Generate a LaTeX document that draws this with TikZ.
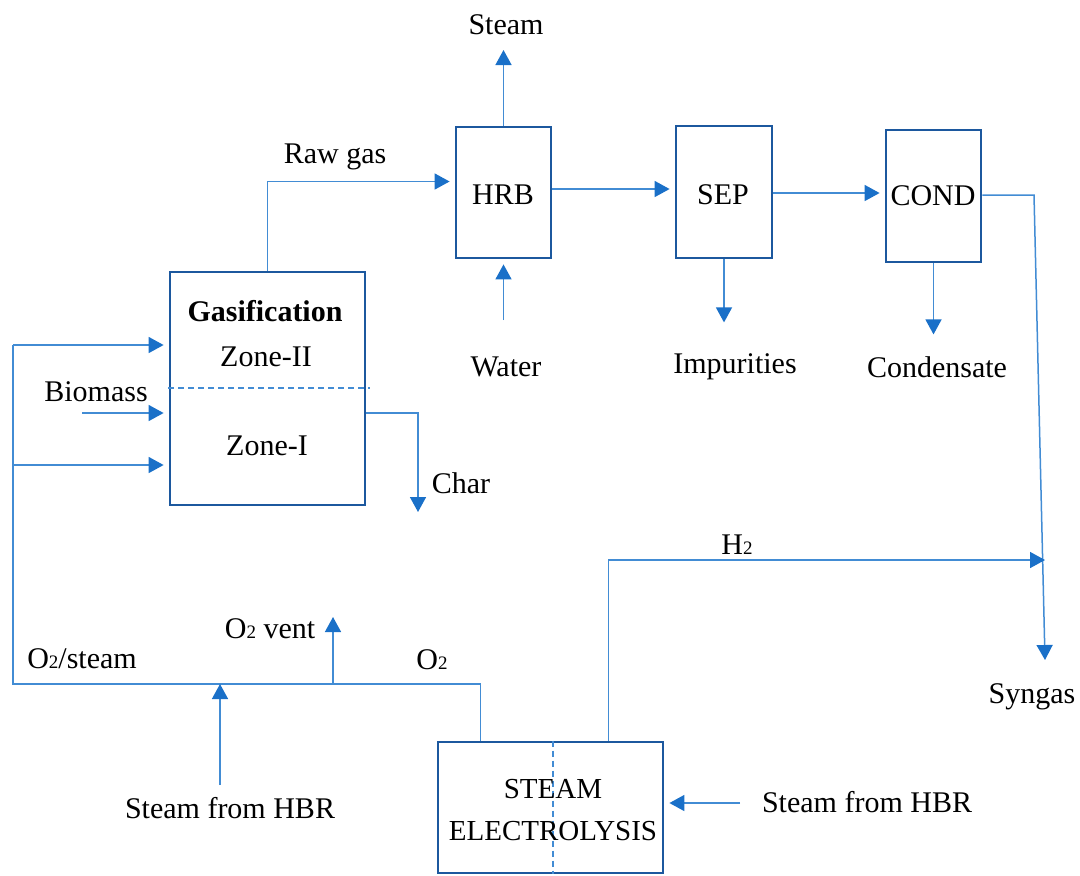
\documentclass[tikz,border=0pt]{standalone}
\usepackage{fontspec}
\setmainfont{Liberation Serif}
\usetikzlibrary{arrows.meta,calc}
\definecolor{boxblue}{RGB}{28,88,158}
\definecolor{lineblue}{RGB}{66,140,212}
\definecolor{tipblue}{RGB}{26,112,200}
\newcommand{\subtwo}{{\fontsize{9.5}{10}\selectfont 2}}
\tikzset{
  unit/.style={draw=boxblue, line width=1.4pt, fill=white, inner sep=0pt},
  lbl/.style={font=\fontsize{15}{17}\selectfont, inner sep=1pt, text=black},
  pipe/.style={draw=lineblue, line width=0.75pt},
  flow/.style={pipe, -{Triangle[length=7.5pt,width=8pt,color=tipblue]}},
  feed/.style={flow, shorten >=2.5pt},
  divider/.style={draw=lineblue, line width=0.8pt, dash pattern=on 3pt off 2pt}
}
\begin{document}
\begin{tikzpicture}[x=0.5pt,y=-0.5pt]
\useasboundingbox (0,0) rectangle (1080,875);

% process units
\node[unit, minimum width=97.5pt, minimum height=116.5pt] (gas) at (267.5,388.5) {};
\node[unit, minimum width=47.5pt, minimum height=65.5pt] (hrb) at (503.5,192.5) {};
\node[unit, minimum width=48pt, minimum height=66pt] (sep) at (724,192) {};
\node[unit, minimum width=47.5pt, minimum height=66pt] (cond) at (933.5,196) {};
\node[unit, minimum width=112.5pt, minimum height=65.5pt] (elec) at (550.5,807.5) {};

% zone and cell dividers
\draw[divider] (168,388) -- (370,388);
\draw[divider] (elec.north -| 553,0) -- (elec.south -| 553,0);

% unit labels
\node[lbl, font=\fontsize{15}{17}\selectfont\bfseries] (tgas) at (265,311) {Gasification};
\node[lbl] (tz2) at (266,357) {Zone-II};
\node[lbl] (tz1) at (267,446) {Zone-I};
\node[lbl] (thrb) at (503,195) {HRB};
\node[lbl] (tsep) at (723,195) {SEP};
\node[lbl] (tcond) at (933,196) {COND};
\node[lbl, font=\fontsize{14.5}{17}\selectfont] (tel1) at (553,789) {STEAM};
\node[lbl, font=\fontsize{14.5}{17}\selectfont] (tel2) at (553,831) {ELECTROLYSIS};

% stream labels
\node[lbl] (lsteam) at (506,25) {Steam};
\node[lbl] (lraw) at (335,157) {Raw gas};
\node[lbl] (lwater) at (506,367) {Water};
\node[lbl] (limp) at (735,367) {Impurities};
\node[lbl] (lcond) at (937,367) {Condensate};
\node[lbl] (lbio) at (96,392) {Biomass};
\node[lbl] (lchar) at (461,483) {Char};
\node[lbl] (lh2) at (737,545) {H\subtwo};
\node[lbl] (lsyn) at (1032,697) {Syngas};
\node[lbl] (lvent) at (270,629) {O\subtwo\ vent};
\node[lbl] (lo2) at (432,660) {O\subtwo};
\node[lbl] (lo2s) at (82,659) {O\subtwo/steam};
\node[lbl] (lhbr1) at (230,808) {Steam from HBR};
\node[lbl] (lhbr2) at (867,802) {Steam from HBR};

% junctions and free ends
\coordinate (ltop) at (13,345);
\coordinate (lbot) at (13,684);
\coordinate (lmid) at (13,465);
\coordinate (bio) at (82,413);
\coordinate (ventj) at (333,684);
\coordinate (venttip) at (333,617);
\coordinate (hbrin) at (220,785);
\coordinate (hbrj) at (220,684);
\coordinate (charc) at (418,413);
\coordinate (chartip) at (418,512);
\coordinate (synj) at (1034,195);
\coordinate (syntip) at (1045,660);
\coordinate (h2tip) at (1045,560);
\coordinate (hbr2in) at (740,803);

% gasifier feeds and products
\draw[feed] (gas.north) |- ($(hrb.west)+(0,-11)$);
\draw[feed] (bio) -- (gas.west |- bio);
\draw[feed] (lmid) -- (gas.west |- lmid);
\draw[feed] (ltop) -- (gas.west |- ltop);
\draw[flow] (gas.east |- charc) -- (charc) -- (chartip);

% gas cleaning train
\draw[flow] (hrb.north) -- (hrb.north |- 0,50);
\draw[feed] (hrb.south |- 0,320) -- (hrb.south);
\draw[feed] (hrb.east |- 0,189) -- (sep.west |- 0,189);
\draw[feed] (sep.east |- 0,193) -- (cond.west |- 0,193);
\draw[flow] (sep.south) -- ++(0,63);
\draw[flow] (cond.south) -- ++(0,71);
\draw[flow] (cond.east |- synj) -- (synj) -- (syntip);

% electrolysis streams
\draw[pipe] ($(elec.north west)+(44,0)$) |- (lbot) -- (ltop);
\draw[flow] (ventj) -- (venttip);
\draw[flow] (hbrin) -- (hbrj);
\draw[flow] ($(elec.north west)+(172,0)$) |- (h2tip);
\draw[feed] (hbr2in) -- (elec.east |- hbr2in);
\end{tikzpicture}
\end{document}
